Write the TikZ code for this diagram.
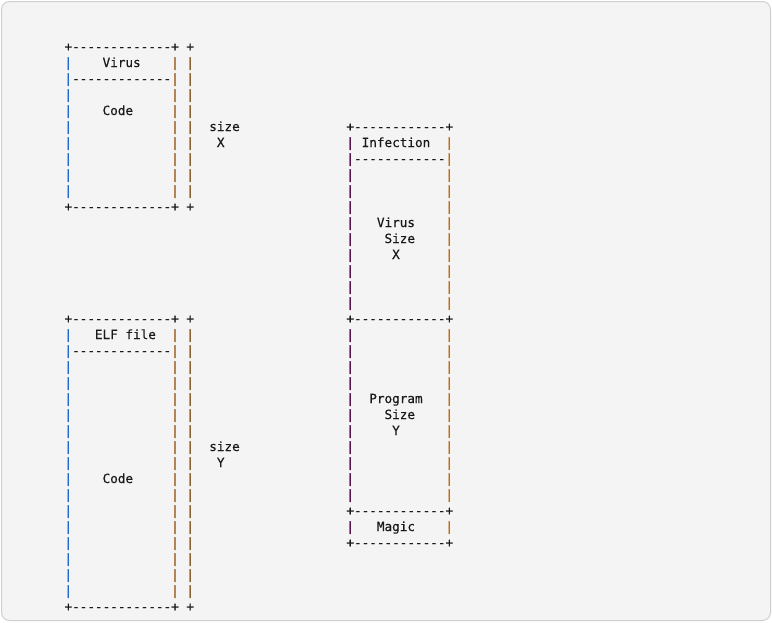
\documentclass[tikz,border=0pt]{standalone}
\usepackage{fontspec}
\newfontfamily\monofam{DejaVu Sans Mono}[FakeBold=0.4]
\newfontfamily\pipefam{DejaVu Sans Mono}[FakeBold=2]
\definecolor{ink}{HTML}{1A1A1A}
\definecolor{bgfill}{HTML}{F4F4F4}
\definecolor{frameline}{HTML}{CFCFCF}
\definecolor{cA}{HTML}{2468D0}
\definecolor{cB}{HTML}{A0642C}
\definecolor{cC}{HTML}{8A6230}
\definecolor{cD}{HTML}{5A1450}
\definecolor{cE}{HTML}{C8680C}
\newcommand\tx[4][ink]{\node[txt,text=#1] (t#2x#3) at ({64.5+7.62*#2},{51+16*#3}) {#4};}
\newcommand\dashes[3]{\foreach \c in {#1,...,#2} {\tx{\c}{#3}{-}}}
\newcommand\pipes[4]{\foreach \r in {#2,...,#3} {\node[txt,font=\pipefam\fontsize{12.66pt}{16pt}\selectfont,text=#4] (p#1x\r) at ({64.5+7.62*#1},{51+16*\r}) {|};}}
\begin{document}
\begin{tikzpicture}[x=1pt,y=-1pt,
  txt/.style={anchor=base west,inner sep=0pt,outer sep=0pt,font=\monofam\fontsize{12.66pt}{16pt}\selectfont,text=ink}]
\useasboundingbox (0,0) rectangle (772,622);
\fill[white] (0,0) rectangle (772,622);
\draw[frameline,fill=bgfill,rounded corners=8pt,line width=1pt] (1.5,1.5) rectangle (770.5,620.5);
% ---- top-left box (Virus)
\tx{0}{0}{+}\dashes{1}{13}{0}\tx{14}{0}{+}\tx{16}{0}{+}
\pipes{0}{1}{9}{cA}\pipes{14}{1}{9}{cB}\pipes{16}{1}{9}{cC}
\tx{5}{1}{Virus}
\dashes{1}{13}{2}
\tx{5}{4}{Code}
\tx{19}{5}{size}
\tx{20}{6}{X}
\tx{0}{10}{+}\dashes{1}{13}{10}\tx{14}{10}{+}\tx{16}{10}{+}
% ---- right box (Infection)
\tx{37}{5}{+}\dashes{38}{49}{5}\tx{50}{5}{+}
\pipes{37}{6}{16}{cD}\pipes{50}{6}{16}{cE}
\tx{39}{6}{Infection}
\dashes{38}{49}{7}
\tx{41}{11}{Virus}
\tx{42}{12}{Size}
\tx{43}{13}{X}
\tx{37}{17}{+}\dashes{38}{49}{17}\tx{50}{17}{+}
\pipes{37}{18}{28}{cD}\pipes{50}{18}{28}{cE}
\tx{40}{22}{Program}
\tx{42}{23}{Size}
\tx{43}{24}{Y}
\tx{37}{29}{+}\dashes{38}{49}{29}\tx{50}{29}{+}
\pipes{37}{30}{30}{cD}\pipes{50}{30}{30}{cE}
\tx{41}{30}{Magic}
\tx{37}{31}{+}\dashes{38}{49}{31}\tx{50}{31}{+}
% ---- bottom-left box (ELF file)
\tx{0}{17}{+}\dashes{1}{13}{17}\tx{14}{17}{+}\tx{16}{17}{+}
\pipes{0}{18}{34}{cA}\pipes{14}{18}{34}{cB}\pipes{16}{18}{34}{cC}
\tx{4}{18}{ELF file}
\dashes{1}{13}{19}
\tx{19}{25}{size}
\tx{20}{26}{Y}
\tx{5}{27}{Code}
\tx{0}{35}{+}\dashes{1}{13}{35}\tx{14}{35}{+}\tx{16}{35}{+}
\end{tikzpicture}
\end{document}
